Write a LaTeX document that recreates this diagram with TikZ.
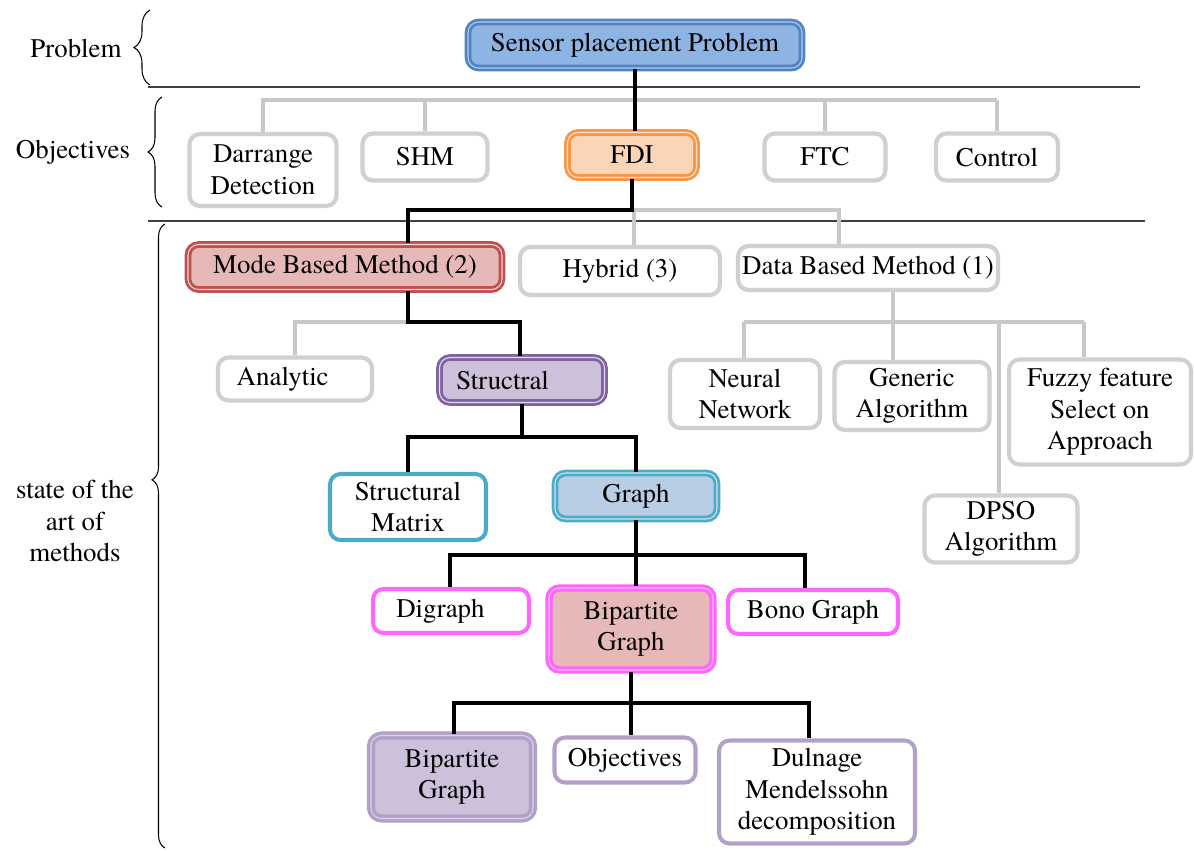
\documentclass[tikz,border=0pt]{standalone}
\usepackage{fontspec}
\setmainfont{texgyretermes-regular.otf}
\usetikzlibrary{decorations.pathreplacing}
\definecolor{grayb}{HTML}{D0D0D0}
\definecolor{grayl}{HTML}{C8C8C8}
\definecolor{blueb}{HTML}{5283C2}
\definecolor{bluef}{HTML}{8DB4E2}
\definecolor{bluel}{HTML}{B0CBEC}
\definecolor{orangeb}{HTML}{F79646}
\definecolor{orangef}{HTML}{FBD5B5}
\definecolor{orangel}{HTML}{FDE2CC}
\definecolor{redb}{HTML}{C0504D}
\definecolor{redf}{HTML}{E6B9B8}
\definecolor{redl}{HTML}{F2D5D4}
\definecolor{purpb}{HTML}{8064A2}
\definecolor{purpf}{HTML}{CCC0DA}
\definecolor{purpl}{HTML}{E2DAEC}
\definecolor{tealb}{HTML}{4BACC6}
\definecolor{tealf}{HTML}{B9CDE5}
\definecolor{teall}{HTML}{D5E2F0}
\definecolor{magb}{HTML}{FF66FF}
\definecolor{magl}{HTML}{FFB3FF}
\definecolor{lavb}{HTML}{B2A1C7}
\definecolor{lavl}{HTML}{DCD3E8}
\definecolor{divider}{HTML}{404040}
\begin{document}
\begin{tikzpicture}[x=0.02cm,y=-0.02cm,
  font=\fontsize{15.3}{18}\selectfont,
  sz/.style n args={2}{minimum width=#1*0.02cm, minimum height=#2*0.02cm},
  box/.style={rounded corners=6pt, align=center, inner sep=1pt},
  gbox/.style={box, draw=grayb, line width=2.4pt, fill=white},
  cbox/.style={box, line width=1.6pt, double distance=0.6pt},
  plainc/.style={box, line width=2.3pt, fill=white},
  gline/.style={draw=grayl, line width=2.2pt},
  bline/.style={draw=black, line width=2.3pt},
  divline/.style={draw=divider, line width=0.8pt},
  bracel/.style={draw=black, line width=0.6pt, decorate},
  lbl/.style={align=center, inner sep=0pt}
]
\useasboundingbox (0,0) rectangle (1194,850);

% dividers
\draw[divline] (148,87) -- (1140,87);
\draw[divline] (148,221) -- (1145,221);

% braces and labels
\draw[bracel, decoration={brace, amplitude=0.32cm}] (150,85) -- (150,10);
\draw[bracel, decoration={brace, amplitude=0.28cm}] (162,207) -- (162,97);
\draw[bracel, decoration={brace, amplitude=0.26cm, aspect=0.59}] (165,848) -- (165,224);
\node[lbl] (lprob) at (76,48) {Problem};
\node[lbl] (lobj) at (73,152) {Objectives};
\node[lbl] (lstate) at (75,521) {state of the\\art of\\methods};

% nodes
\node[cbox, draw=blueb, double=bluel, fill=bluef, sz={334}{46}] (sensor) at (635,45) {Sensor placement Problem};

\node[gbox, sz={147}{72}] (dar) at (263,170) {Darrange\\Detection};
\node[gbox, sz={125}{47}] (shm) at (425,157) {SHM};
\node[cbox, draw=orangeb, double=orangel, fill=orangef, sz={129}{45}] (fdi) at (632,155) {FDI};
\node[gbox, sz={121}{47}] (ftc) at (825,157) {FTC};
\node[gbox, sz={122}{47}] (ctl) at (997,157) {Control};

\node[cbox, draw=redb, double=redl, fill=redf, sz={314}{45}] (mode) at (345,267) {Mode Based Method (2)};
\node[gbox, sz={200}{48}] (hyb) at (620,271) {Hybrid (3)};
\node[gbox, sz={260}{44}] (data) at (868,268) {Data Based Method (1)};

\node[gbox, sz={154}{43}] (ana) at (295,379) {\hspace*{-14pt}Analytic};
\node[cbox, draw=purpb, double=purpl, fill=purpf, sz={165}{45}] (str) at (522,380) {\hspace*{-22pt}Structral};

\node[gbox, sz={150}{68}] (nn) at (745,394) {Neural\\Network};
\node[gbox, sz={155}{68}] (ga) at (912,396) {Generic\\Algorithm};
\node[gbox, sz={182}{105}] (fz) at (1100,412) {Fuzzy feature\\Select on\\Approach};
\node[gbox, sz={153}{67}] (dpso) at (1001,529) {DPSO\\Algorithm};

\node[plainc, draw=tealb, sz={156}{66}] (sm) at (408,507) {Structural\\Matrix};
\node[cbox, draw=tealb, double=teall, fill=tealf, sz={162}{46}] (gr) at (636,496) {Graph};

\node[plainc, draw=magb, sz={156}{44}] (dig) at (451,611) {\hspace*{-12pt}Digraph};
\node[cbox, draw=magb, double=magl, fill=redf, line width=1.8pt, sz={164}{82}] (bip) at (631,629) {Bipartite\\Graph};
\node[plainc, draw=magb, sz={170}{44}] (bono) at (813,612) {Bono Graph};

\node[cbox, draw=lavb, double=lavl, fill=purpf, line width=2pt, sz={162}{83}] (bipb) at (452,777) {Bipartite\\Graph};
\node[plainc, draw=lavb, sz={141}{45}] (obj) at (625,760) {Objectives};
\node[plainc, draw=lavb, sz={196}{103}] (dul) at (817,792) {Dulnage\\Mendelssohn\\decomposition};

% junction coordinates
\coordinate (jo) at (635,100);
\coordinate (jf) at (632,210);
\coordinate (jm) at (408,322);
\coordinate (jd) at (893,322);
\coordinate (js) at (522,437);
\coordinate (jg) at (636,555);
\coordinate (jb) at (631,703);

% gray connectors
\draw[gline] (dar.north) |- (ctl.north |- jo);
\draw[gline] (ctl.north |- jo) -- (ctl.north);
\draw[gline] (shm.north |- jo) -- (shm.north);
\draw[gline] (ftc.north |- jo) -- (ftc.north);
\draw[gline] (jf) -| ([xshift=-29*0.02cm]data.north);
\draw[gline] (jf -| 634,0) -- (634,0 |- hyb.north);
\draw[gline] (jm) -| (ana.north);
\draw[gline] (jd |- data.south) -- (jd);
\draw[gline] (744,322) -- (1084,322);
\draw[gline] (744,322) -- (744,0 |- nn.north);
\draw[gline] (jd) -- (jd |- ga.north);
\draw[gline] (999,322) -- (999,0 |- dpso.north);
\draw[gline] (1084,322) -- (1084,0 |- fz.north);

% black connectors
\draw[bline] (sensor.south) -- (sensor.south |- fdi.north);
\draw[bline] (fdi.south) -- (jf) -- (408,210) -- (408,0 |- mode.north);
\draw[bline] (jm |- mode.south) -- (jm) -- (520,322) -- (520,0 |- str.north);
\draw[bline] (str.south) -- (js);
\draw[bline] (sm.north) |- (js) -| (jg |- gr.north);
\draw[bline] (gr.south) -- (jg);
\draw[bline] (450,0 |- dig.north) |- (805,555) -- (805,0 |- bono.north);
\draw[bline] (jg) -- (jg |- bip.north);
\draw[bline] (bip.south) -- (jb);
\draw[bline] (454,0 |- bipb.north) |- (809,703) -- (809,0 |- dul.north);
\draw[bline] (jb) -- (jb |- obj.north);
\end{tikzpicture}
\end{document}
